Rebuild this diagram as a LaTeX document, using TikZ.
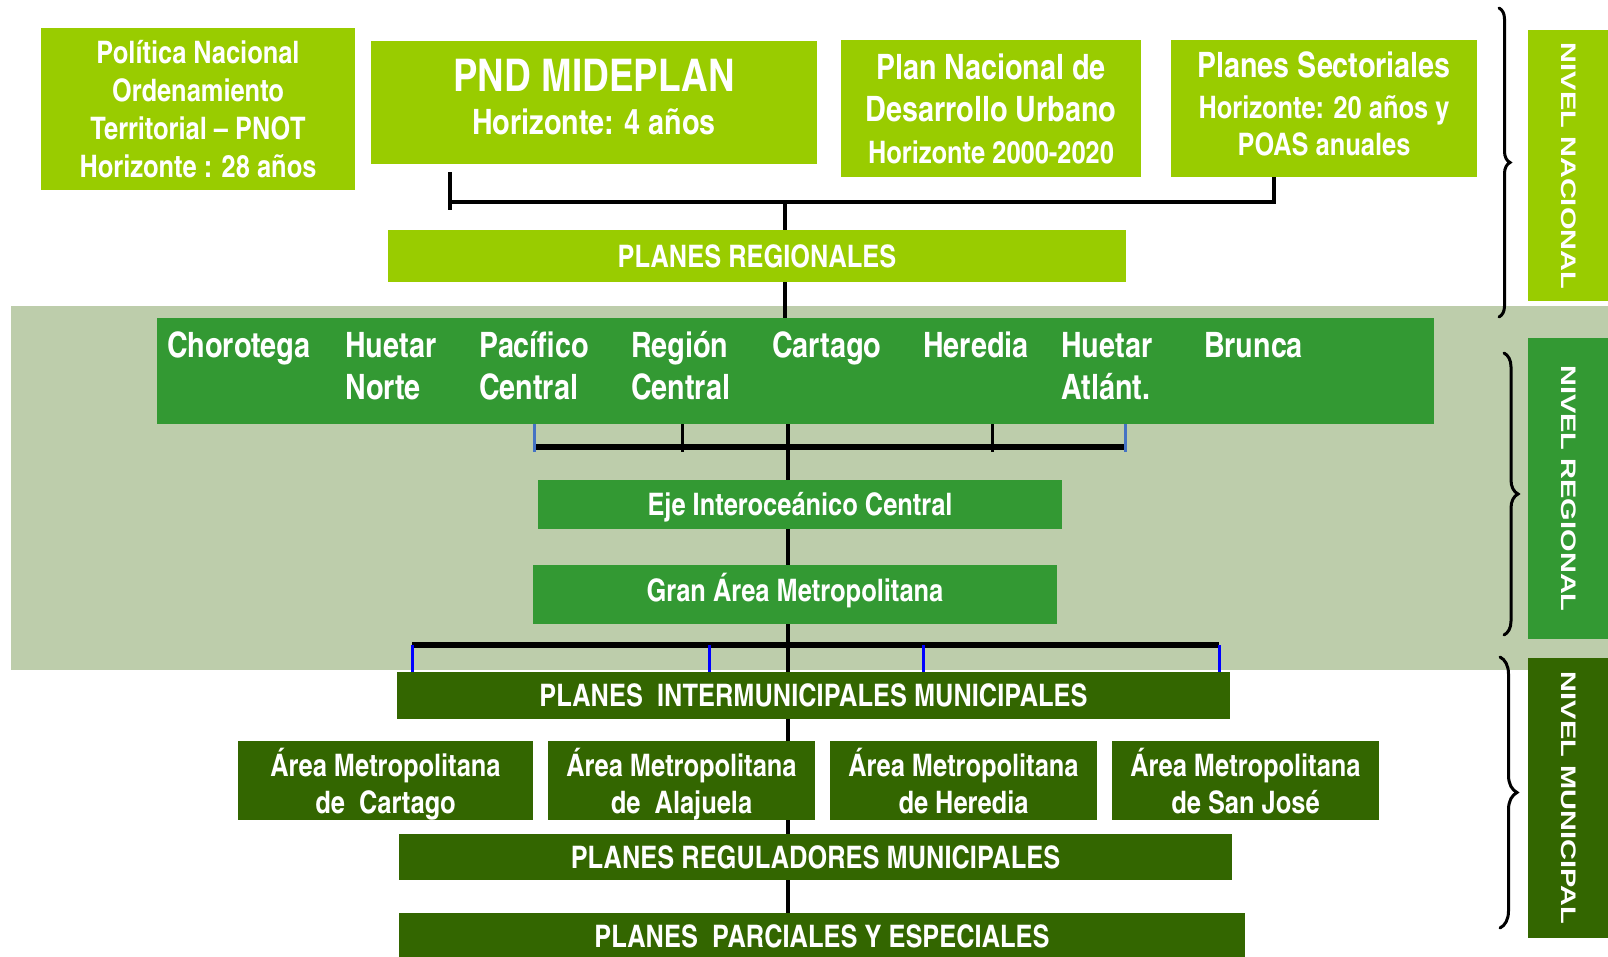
\documentclass[tikz,border=0pt]{standalone}
\usepackage{fontspec}
\setmainfont{texgyreheroscn}[Extension=.otf, UprightFont=*-regular, BoldFont=*-bold, ItalicFont=*-italic, BoldItalicFont=*-bolditalic]
\newfontfamily\nivelfont{Liberation Sans}[FakeStretch=1.38]
\usepackage{xcolor}
\usetikzlibrary{positioning}
\usetikzlibrary{decorations.pathreplacing}
\definecolor{verdeA}{HTML}{99CC00}
\definecolor{verdeB}{HTML}{339933}
\definecolor{verdeC}{HTML}{336600}
\definecolor{fondo}{HTML}{BDCDAB}
\definecolor{azulA}{HTML}{4472C4}
\definecolor{azulB}{HTML}{0000FF}
\tikzset{
  caja/.style={inner sep=0pt, text=white, align=center, font=\bfseries\fontsize{31}{38}\selectfont},
  nacional/.style={caja, fill=verdeA},
  regional/.style={caja, fill=verdeB},
  municipal/.style={caja, fill=verdeC},
  area/.style={municipal, minimum width=267pt, minimum height=79pt, font=\bfseries\fontsize{31}{37}\selectfont},
  regtxt/.style={inner sep=0pt, text=white, align=left, anchor=base west, font=\bfseries\fontsize{35}{42}\selectfont},
  nivel/.style={inner sep=0pt, text=white, rotate=-90, minimum height=82pt, font=\nivelfont\bfseries\fontsize{21}{24}\selectfont},
  enlace/.style={line width=3.5pt, black},
  barra/.style={line width=6pt, black},
  bajada/.style={line width=3pt},
  llave/.style={decorate, decoration={brace, amplitude=#1}, line width=3pt, line cap=round}
}
\def\bajo#1{\rule[-#1]{0pt}{1pt}}

\begin{document}
\begin{tikzpicture}[x=1pt,y=-1pt]
\useasboundingbox (0,0) rectangle (1608,957);
\fill[fondo] (11,306) rectangle (1610,670);

\node[nacional, minimum width=314pt, minimum height=162pt] (pnot) at (198,109) {Política Nacional\\Ordenamiento\\Territorial – PNOT\\Horizonte : 28 años};
\node[nacional, minimum width=446pt, minimum height=123pt, font=\bfseries\fontsize{35}{43}\selectfont] (pnd) at (594,102.5) {{\fontsize{45}{50}\selectfont PND MIDEPLAN}\\Horizonte: 4 años\bajo{12pt}};
\node[nacional, minimum width=300pt, minimum height=137pt, font=\bfseries\fontsize{35}{42}\selectfont] (pndu) at (991,108.5) {Plan Nacional de\\Desarrollo Urbano\\{\fontsize{31}{38}\selectfont Horizonte 2000-2020}};
\node[nacional, minimum width=306pt, minimum height=137pt, font=\bfseries\fontsize{31}{37}\selectfont] (ps) at (1324,108.5) {{\fontsize{35}{42}\selectfont Planes Sectoriales}\\[4pt]Horizonte: 20 años y\\POAS anuales\bajo{10pt}};
\node[nacional, minimum width=738pt, minimum height=52pt] (regplan) at (757,256) {PLANES REGIONALES};

\node[regional, minimum width=1277pt, minimum height=106pt] (regiones) at (795.5,371) {};
\node[regtxt] (chorotega) at (167,357) {Chorotega};
\node[regtxt] (huetarN) at (345,399) {Huetar\\Norte};
\node[regtxt] (pacifico) at (479,399) {Pacífico\\Central};
\node[regtxt] (central) at (631,399) {Región\\Central};
\node[regtxt] (cartago) at (772,357) {Cartago};
\node[regtxt] (heredia) at (923,357) {Heredia};
\node[regtxt] (huetarA) at (1061,399) {Huetar\\Atlánt.};
\node[regtxt] (brunca) at (1204,357) {Brunca};

\node[regional, minimum width=524pt, minimum height=49pt, text height=22pt, text depth=0pt] (eje) at (800,504.5) {Eje Interoceánico Central};
\node[regional, minimum width=524pt, minimum height=59pt, text height=22pt, text depth=9pt] (gam) at (795,594.5) {Gran Área Metropolitana};

\node[municipal, minimum width=833pt, minimum height=47pt] (pim) at (813.5,695.5) {PLANES\ \ INTERMUNICIPALES MUNICIPALES};
\node[municipal, minimum width=833pt, minimum height=46pt] (prm) at (815.5,857) {PLANES REGULADORES MUNICIPALES};
\node[municipal, minimum width=846pt, minimum height=47pt] (ppe) at (822,936.5) {PLANES\ \ PARCIALES Y ESPECIALES};

\coordinate (barL) at (450,202);
\coordinate (barR) at (1274,202);
\coordinate (hub) at (785,202);
\coordinate (eje0) at (788,0);
\draw[enlace] ([yshift=-8pt]barL |- pnd.south) -- ([yshift=-8pt]barL) -- (barL) -- (barR) -- (ps.south -| barR);
\draw[enlace] (hub) -- (regplan.north -| hub);
\draw[enlace] (regplan.south -| hub) -- (regiones.north -| hub);

\foreach \n/\x in {a/534,b/682,c/992,d/1125}
  \coordinate (r\n) at (\x,452);
\draw[barra] ([yshift=5pt]ra) -- ([yshift=5pt]rd);
\draw[bajada, azulA] (regiones.south -| ra) -- (ra);
\draw[bajada, black] (regiones.south -| rb) -- (rb);
\draw[bajada, black] (regiones.south -| rc) -- (rc);
\draw[bajada, azulA] (regiones.south -| rd) -- (rd);

\draw[enlace] (regiones.south -| eje0) -- (eje.north -| eje0);
\draw[enlace] (eje.south -| eje0) -- (gam.north -| eje0);
\draw[enlace] (gam.south -| eje0) -- (pim.north -| eje0);
\draw[enlace] (pim.south -| eje0) -- (prm.north -| eje0);
\draw[enlace] (prm.south -| eje0) -- (ppe.north -| eje0);

\foreach \n/\x in {a/412,b/709,c/923,d/1219}
  \coordinate (g\n) at (\x,645);
\draw[barra] (ga) -- (gd);
\foreach \n in {a,b,c,d}
  \draw[bajada, azulB] (g\n) -- (pim.north -| g\n);

\node[area, minimum width=295pt] (amCartago) at (385.5,780.5) {Área Metropolitana\\\smash{de\ \ Cartago}};
\node[area] (amAlajuela) at (681.5,780.5) {Área Metropolitana\\\smash{de\ \ Alajuela}};
\node[area] (amHeredia) at (963.5,780.5) {Área Metropolitana\\\smash{de Heredia}};
\node[area] (amSanJose) at (1245.5,780.5) {Área Metropolitana\\\smash{de San José}};

\node[nivel, fill=verdeA, minimum width=271pt] (nNacional) at (1569,166) {NIVEL NACIONAL};
\node[nivel, fill=verdeB, minimum width=301pt] (nRegional) at (1569,488.5) {NIVEL REGIONAL};
\node[nivel, fill=verdeC, minimum width=280pt] (nMunicipal) at (1569,798) {NIVEL MUNICIPAL};

\draw[llave=11pt] (1499,8) -- (1499,317);
\draw[llave=14pt] (1504,353) -- (1504,635);
\draw[llave=17pt] (1500,657) -- (1500,928);
\end{tikzpicture}
\end{document}
